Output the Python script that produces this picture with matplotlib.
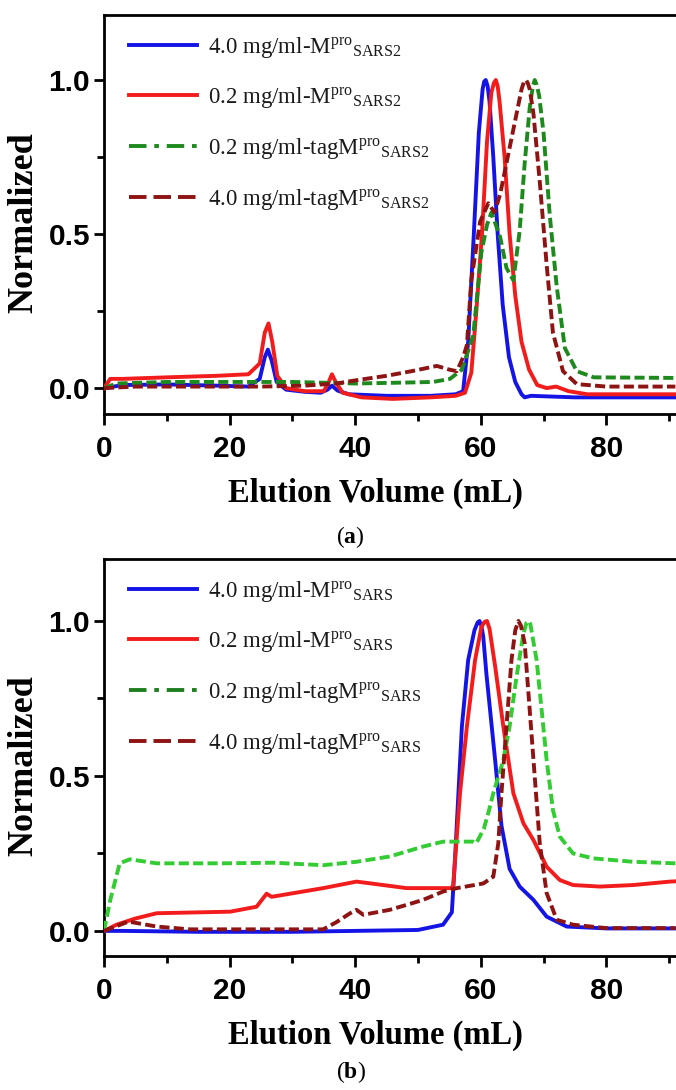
import matplotlib
matplotlib.use("Agg")
import matplotlib.pyplot as plt
from matplotlib.ticker import FixedLocator

plt.rcParams['mathtext.fontset'] = 'custom'
plt.rcParams['mathtext.rm'] = 'Liberation Serif'
plt.rcParams['mathtext.it'] = 'Liberation Serif:italic'
plt.rcParams['mathtext.bf'] = 'Liberation Serif:bold'

# ---------------- Panel (a): SARS2 ----------------
a_blue_x = [0, 3, 10, 18, 23, 24.8, 25.6, 26.1, 26.7, 27.5, 29, 32, 34.5, 35.6, 36.3, 37.2, 39, 45, 52, 56,
            57.2, 58, 58.9, 59.7, 60.3, 60.55, 60.8, 61.1, 61.4, 62.0, 62.7, 63.5, 64.5, 65.5, 66.5, 67, 68, 75, 91]
a_blue_y = [0.0, 0.01, 0.012, 0.008, 0.005, 0.03, 0.10, 0.125, 0.09, 0.02, -0.005, -0.012, -0.015, -0.005, 0.008,
            -0.008, -0.02, -0.025, -0.025, -0.02, -0.01, 0.15, 0.5, 0.83, 0.97, 0.995, 1.0, 0.98, 0.93, 0.75, 0.5,
            0.27, 0.1, 0.02, -0.02, -0.03, -0.025, -0.03, -0.03]

a_red_x = [0, 1, 3, 10, 18, 23, 24.8, 25.6, 26.2, 26.8, 27.6, 29, 32, 35, 35.8, 36.3, 36.9, 38, 41, 46, 52, 56,
           57.5, 58.5, 59.3, 60.2, 61.0, 61.7, 62.1, 62.4, 62.7, 63.0, 63.8, 64.6, 65.5, 66.5, 67.7, 69, 70.5, 72,
           74, 77, 91]
a_red_y = [0.0, 0.03, 0.03, 0.035, 0.04, 0.045, 0.08, 0.18, 0.21, 0.15, 0.04, 0.0, -0.01, -0.01, 0.02, 0.045, 0.02,
           -0.015, -0.03, -0.035, -0.03, -0.025, -0.015, 0.05, 0.25, 0.5, 0.8, 0.96, 0.99, 1.0, 0.98, 0.93, 0.75,
           0.5, 0.3, 0.15, 0.06, 0.01, 0.0, 0.005, -0.01, -0.02, -0.02]

a_green_x = [0, 2, 10, 20, 30, 40, 48, 52.4, 55.1, 57, 58.8, 60.1, 61.0, 61.7, 62.4, 63.1, 64.1, 65.2, 66.2, 67.0,
             67.8, 68.3, 68.6, 68.9, 69.3, 70.0, 71.0, 72.1, 73.4, 75.3, 78, 91]
a_green_y = [0.0, 0.015, 0.02, 0.02, 0.02, 0.015, 0.018, 0.02, 0.03, 0.06, 0.17, 0.44, 0.53, 0.57, 0.53, 0.49, 0.39,
             0.35, 0.51, 0.73, 0.91, 0.98, 1.0, 0.985, 0.95, 0.83, 0.56, 0.33, 0.13, 0.055, 0.035, 0.033]

a_dred_x = [0, 5, 15, 25, 32, 37, 40, 45, 49, 53, 55, 56.2, 57.2, 57.8, 58.5, 59.9, 61.2, 62.2, 63.1, 64.1, 65.4,
            66.5, 66.9, 67.2, 67.5, 67.8, 68.4, 69.4, 70.5, 71.5, 73.1, 75.3, 80, 91]
a_dred_y = [0.0, 0.005, 0.005, 0.005, 0.008, 0.015, 0.025, 0.04, 0.055, 0.072, 0.06, 0.055, 0.1, 0.14, 0.35, 0.54,
            0.6, 0.57, 0.63, 0.73, 0.86, 0.97, 0.995, 1.0, 0.99, 0.97, 0.89, 0.67, 0.40, 0.18, 0.055, 0.013, 0.005,
            0.005]

# ---------------- Panel (b): SARS ----------------
b_blue_x = [0, 3, 15, 30, 40, 50, 54.0, 55.4, 55.9, 57.0, 58.0, 59.0, 59.5, 59.8, 60.1, 60.4, 60.9, 62.3, 63.3,
            64.6, 66.2, 68.4, 70.5, 73.7, 80, 91]
b_blue_y = [0.0, 0.0, -0.003, -0.003, 0.0, 0.003, 0.02, 0.06, 0.23, 0.66, 0.874, 0.97, 0.995, 1.0, 0.985, 0.95,
            0.83, 0.55, 0.34, 0.2, 0.143, 0.1, 0.046, 0.014, 0.008, 0.008]

b_red_x = [0, 2, 5, 8.4, 20.1, 24.3, 25.9, 26.7, 34.9, 40.2, 41.8, 48.2, 55.1, 55.6, 56.7, 57.8, 59.1, 60.1, 60.6,
           61.0, 61.4, 62.3, 63.6, 65.2, 66.8, 68.4, 70.5, 72.6, 74.7, 79.0, 84.3, 90.1, 91]
b_red_y = [0.0, 0.02, 0.04, 0.057, 0.062, 0.078, 0.12, 0.11, 0.138, 0.159, 0.155, 0.138, 0.138, 0.143, 0.444, 0.66,
           0.874, 0.98, 0.997, 1.0, 0.975, 0.853, 0.66, 0.444, 0.347, 0.293, 0.207, 0.164, 0.148, 0.143, 0.148,
           0.159, 0.16]

b_green_x = [0, 1.0, 2.5, 4.1, 8.4, 19.0, 27.0, 34.9, 40.2, 45.5, 50.8, 54.0, 58.8, 59.3, 60.5, 61.2, 62.0, 63.6,
             64.6, 65.7, 66.8, 67.3, 67.6, 67.9, 68.9, 69.7, 70.5, 71.5, 72.6, 74.7, 77.9, 84.3, 91]
b_green_y = [0.0, 0.1, 0.218, 0.231, 0.218, 0.218, 0.22, 0.212, 0.223, 0.24, 0.272, 0.288, 0.288, 0.283, 0.33, 0.38,
             0.444, 0.551, 0.66, 0.82, 0.96, 0.995, 1.0, 0.99, 0.874, 0.713, 0.551, 0.39, 0.304, 0.25, 0.234, 0.223,
             0.218]

b_dred_x = [0, 3.9, 8.4, 13.7, 34.9, 37.0, 39.2, 40.2, 41.3, 45.5, 48.2, 50.8, 54.0, 56.2, 60.4, 62.0, 62.8, 63.3,
            64.1, 64.9, 65.5, 66.0, 66.4, 67.0, 67.8, 68.6, 69.4, 70.5, 72.1, 74.7, 80, 91]
b_dred_y = [0.0, 0.03, 0.014, 0.005, 0.005, 0.028, 0.057, 0.068, 0.052, 0.068, 0.084, 0.1, 0.127, 0.138, 0.153,
            0.175, 0.283, 0.444, 0.66, 0.874, 0.97, 1.0, 0.985, 0.928, 0.713, 0.498, 0.283, 0.122, 0.036, 0.02,
            0.009, 0.009]

labels_a = ["4.0 mg/ml-M$^{\\mathrm{pro}}$$_{\\mathrm{SARS2}}$",
            "0.2 mg/ml-M$^{\\mathrm{pro}}$$_{\\mathrm{SARS2}}$",
            "0.2 mg/ml-tagM$^{\\mathrm{pro}}$$_{\\mathrm{SARS2}}$",
            "4.0 mg/ml-tagM$^{\\mathrm{pro}}$$_{\\mathrm{SARS2}}$"]
labels_b = ["4.0 mg/ml-M$^{\\mathrm{pro}}$$_{\\mathrm{SARS}}$",
            "0.2 mg/ml-M$^{\\mathrm{pro}}$$_{\\mathrm{SARS}}$",
            "0.2 mg/ml-tagM$^{\\mathrm{pro}}$$_{\\mathrm{SARS}}$",
            "4.0 mg/ml-tagM$^{\\mathrm{pro}}$$_{\\mathrm{SARS}}$"]

x_major = [0, 20, 40, 60, 80]
x_minor = [10, 30, 50, 70, 90]
y_major = [0.0, 0.5, 1.0]
y_minor = [0.25, 0.75]

BLUE = '#1414E6'
RED = '#F21C1C'
DRED = '#8E1414'
GREEN_A = '#1E8A1E'
GREEN_B = '#33CC33'
GREEN_B_LEG = '#1F7F1F'

W, H = 676, 1090
fig = plt.figure(figsize=(W / 100, H / 100), dpi=100)

TICKFONT = dict(family='Liberation Sans', weight='bold', size=21.5)
LABELFONT = dict(family='Liberation Serif', weight='bold')


def make_axes(top_px, bot_px, ylim):
    ax = fig.add_axes([104 / W, 1 - bot_px / H, (W - 104) / W, (bot_px - top_px) / H])
    ax.set_xlim(0, 91.1)
    ax.set_ylim(*ylim)
    ax.spines['right'].set_visible(False)
    for s in ['left', 'bottom', 'top']:
        ax.spines[s].set_linewidth(2.0)
        ax.spines[s].set_color('black')
    ax.xaxis.set_major_locator(FixedLocator(x_major))
    ax.xaxis.set_minor_locator(FixedLocator(x_minor))
    ax.yaxis.set_major_locator(FixedLocator(y_major))
    ax.yaxis.set_minor_locator(FixedLocator(y_minor))
    ax.set_xticklabels([str(v) for v in x_major], **TICKFONT)
    ax.set_yticklabels(["%.1f" % v for v in y_major], **TICKFONT)
    ax.tick_params(axis='x', which='major', direction='out', length=8, width=2.0, pad=7)
    ax.tick_params(axis='x', which='minor', direction='out', length=5, width=2.0)
    ax.tick_params(axis='y', which='major', direction='out', length=7, width=2.0, pad=3)
    ax.tick_params(axis='y', which='minor', direction='out', length=5, width=2.0)
    ax.tick_params(top=False, right=False, which='both')
    ax.set_xlabel("Elution Volume (mL)", fontsize=23.5, **LABELFONT)
    ax.set_ylabel("Normalized", fontsize=26, **LABELFONT)
    ax.xaxis.set_label_coords(0.474, -0.16)
    ax.yaxis.set_label_coords(-0.112, 0.48)
    return ax


LW = 2.8
DASH = (0, (2.6, 1.1))


def draw(ax, data, labels, green, green_leg):
    (bx, by), (rx, ry), (gx, gy), (dx, dy) = data
    ax.plot(bx, by, color=BLUE, lw=LW, label=labels[0], zorder=3)
    ax.plot(rx, ry, color=RED, lw=LW, label=labels[1], zorder=3)
    ax.plot(gx, gy, color=green, lw=LW, ls=DASH, label=labels[2], zorder=4)
    ax.plot(dx, dy, color=DRED, lw=LW, ls=DASH, label=labels[3], zorder=4)
    leg = ax.legend(loc='upper left', bbox_to_anchor=(0.035, 0.962), frameon=False,
                    prop=dict(family='Liberation Serif', size=16.5), handlelength=3.0,
                    handletextpad=0.45, labelspacing=1.12, borderpad=0.2, borderaxespad=0.0)
    hs = leg.legend_handles
    hs[2].set_linestyle((0, (4.5, 2.0, 1.2, 2.0)))
    hs[2].set_color(green_leg)
    hs[3].set_linestyle((0, (4.5, 1.8)))
    for t in leg.get_texts():
        t.set_color('#1a1a1a')
    return leg


ax_a = make_axes(15, 414, (-0.084, 1.211))
draw(ax_a, [(a_blue_x, a_blue_y), (a_red_x, a_red_y), (a_green_x, a_green_y), (a_dred_x, a_dred_y)],
     labels_a, GREEN_A, GREEN_A)

ax_b = make_axes(559, 956, (-0.081, 1.2))
draw(ax_b, [(b_blue_x, b_blue_y), (b_red_x, b_red_y), (b_green_x, b_green_y), (b_dred_x, b_dred_y)],
     labels_b, GREEN_B, GREEN_B_LEG)

fig.text(350 / W, 1 - 537 / H, "($\\mathbf{a}$)", ha='center', va='center', fontsize=17, family='Liberation Serif')
fig.text(351 / W, 1 - 1072 / H, "($\\mathbf{b}$)", ha='center', va='center', fontsize=17, family='Liberation Serif')

fig.savefig("out.png", dpi=100)
